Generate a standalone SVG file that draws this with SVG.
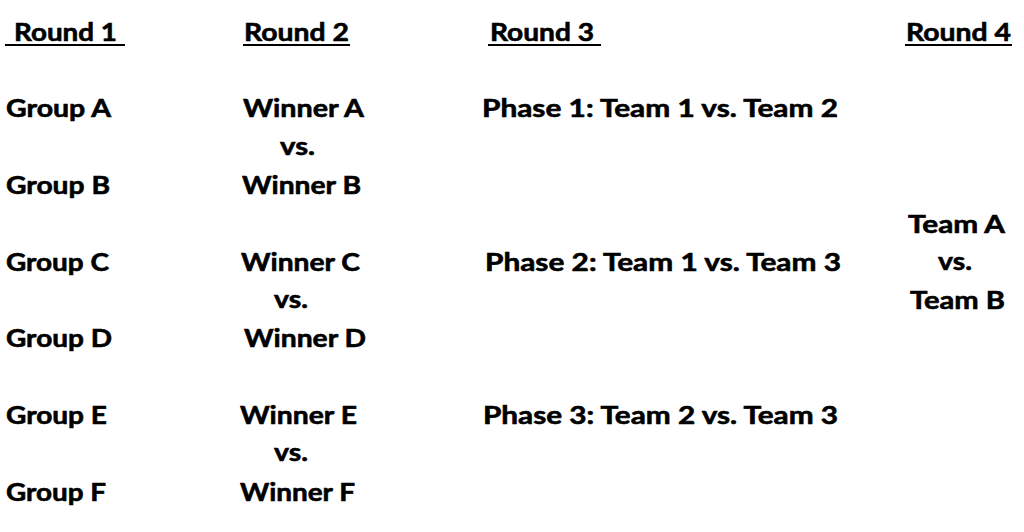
<svg xmlns="http://www.w3.org/2000/svg" width="1024" height="532" viewBox="0 0 1024 532">
<style>
text{font-family:"Lato","Open Sans","Liberation Sans",sans-serif;font-weight:700;font-size:25px;fill:#000;stroke:#000;stroke-width:0.6}
.ul{stroke:#000;stroke-width:2}
</style>
<rect width="1024" height="532" fill="#fff"/>
<g id="headers">
<text x="14" y="41" textLength="103" lengthAdjust="spacingAndGlyphs">Round 1</text>
<line class="ul" x1="5" y1="45" x2="125" y2="45"/>
<text x="244" y="41" textLength="105" lengthAdjust="spacingAndGlyphs">Round 2</text>
<line class="ul" x1="243" y1="45" x2="350" y2="45"/>
<text x="490" y="41" textLength="104" lengthAdjust="spacingAndGlyphs">Round 3</text>
<line class="ul" x1="488" y1="45" x2="601" y2="45"/>
<text x="906" y="41" textLength="105" lengthAdjust="spacingAndGlyphs">Round 4</text>
<line class="ul" x1="905" y1="45" x2="1012" y2="45"/>
</g>
<g id="round1">
<text x="6" y="117" textLength="105" lengthAdjust="spacingAndGlyphs">Group A</text>
<text x="6" y="194" textLength="104" lengthAdjust="spacingAndGlyphs">Group B</text>
<text x="6" y="271" textLength="103" lengthAdjust="spacingAndGlyphs">Group C</text>
<text x="6" y="347" textLength="106" lengthAdjust="spacingAndGlyphs">Group D</text>
<text x="6" y="424" textLength="101" lengthAdjust="spacingAndGlyphs">Group E</text>
<text x="6" y="501" textLength="100" lengthAdjust="spacingAndGlyphs">Group F</text>
</g>
<g id="round2">
<text x="243" y="117" textLength="121" lengthAdjust="spacingAndGlyphs">Winner A</text>
<text x="280" y="155" textLength="35" lengthAdjust="spacingAndGlyphs">vs.</text>
<text x="242" y="194" textLength="119" lengthAdjust="spacingAndGlyphs">Winner B</text>
<text x="241" y="271" textLength="119" lengthAdjust="spacingAndGlyphs">Winner C</text>
<text x="274" y="308" textLength="34" lengthAdjust="spacingAndGlyphs">vs.</text>
<text x="244" y="347" textLength="122" lengthAdjust="spacingAndGlyphs">Winner D</text>
<text x="240" y="424" textLength="117" lengthAdjust="spacingAndGlyphs">Winner E</text>
<text x="274" y="461" textLength="34" lengthAdjust="spacingAndGlyphs">vs.</text>
<text x="240" y="501" textLength="115" lengthAdjust="spacingAndGlyphs">Winner F</text>
</g>
<g id="round3">
<text x="482" y="117" textLength="356" lengthAdjust="spacingAndGlyphs">Phase 1: Team 1 vs. Team 2</text>
<text x="485" y="271" textLength="356" lengthAdjust="spacingAndGlyphs">Phase 2: Team 1 vs. Team 3</text>
<text x="483" y="424" textLength="355" lengthAdjust="spacingAndGlyphs">Phase 3: Team 2 vs. Team 3</text>
</g>
<g id="round4">
<text x="908" y="233" textLength="97" lengthAdjust="spacingAndGlyphs">Team A</text>
<text x="938" y="270" textLength="34" lengthAdjust="spacingAndGlyphs">vs.</text>
<text x="910" y="309" textLength="95" lengthAdjust="spacingAndGlyphs">Team B</text>
</g>
</svg>
